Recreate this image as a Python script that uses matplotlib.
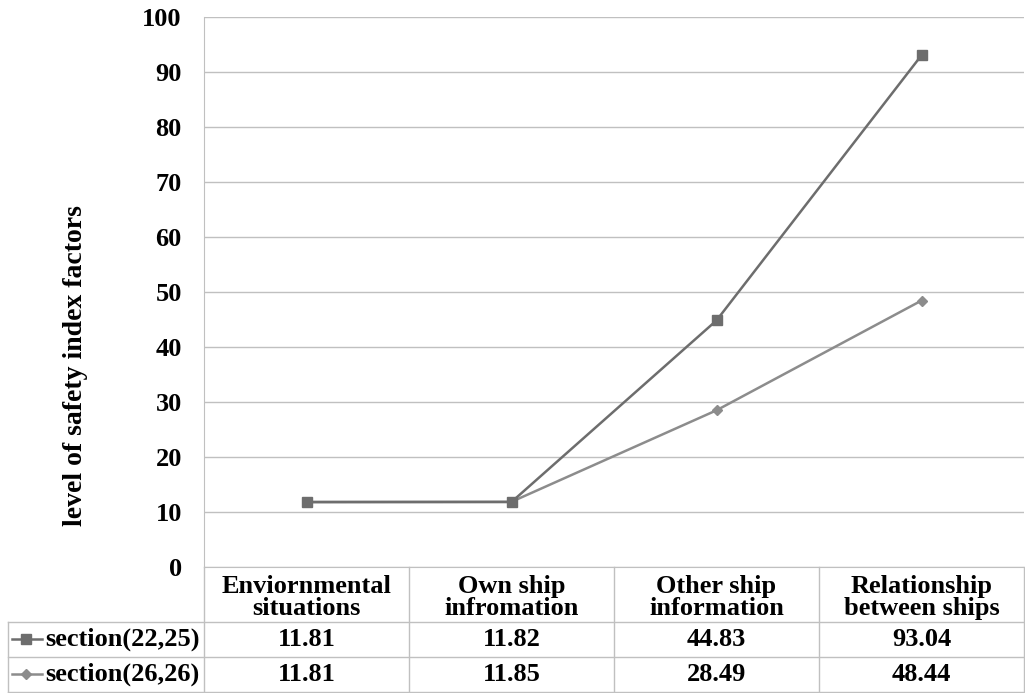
import matplotlib.pyplot as plt
from matplotlib.lines import Line2D

categories = ['Enviornmental\nsituations', 'Own ship\ninfromation',
              'Other ship\ninformation', 'Relationship\nbetween ships']
series_names = ['section(22,25)', 'section(26,26)']
sec_22_25 = [11.81, 11.82, 44.83, 93.04]
sec_26_26 = [11.81, 11.85, 28.49, 48.44]
y_ticks = [0, 10, 20, 30, 40, 50, 60, 70, 80, 90, 100]

plt.rcParams['font.family'] = ['Liberation Serif', 'DejaVu Serif']
plt.rcParams['font.weight'] = 'bold'

fig = plt.figure(figsize=(10.25, 6.93), dpi=100)
ax = fig.add_axes([204 / 1025, 1 - 567 / 693, 820 / 1025, 550 / 693])

grid_col = '#c0c0c0'
colors = ['#6d6d6d', '#8c8c8c']
markers = ['s', 'D']
msizes = [7.5, 5]
fs = 19

x = list(range(len(categories)))
ax.plot(x, sec_26_26, color=colors[1], lw=1.8, marker=markers[1], ms=msizes[1], zorder=3)
ax.plot(x, sec_22_25, color=colors[0], lw=1.8, marker=markers[0], ms=msizes[0], zorder=4)

ax.set_xlim(-0.5, 3.5)
ax.set_ylim(0, 100)
ax.set_yticks(y_ticks)
ax.set_yticklabels([str(t) for t in y_ticks], fontsize=fs, fontweight='bold')
ax.tick_params(axis='y', length=0, pad=16)
ax.set_xticks([])
ax.yaxis.grid(True, color=grid_col, lw=1)
ax.set_axisbelow(True)
for s in ['top', 'right']:
    ax.spines[s].set_visible(False)
ax.spines['left'].set_color(grid_col)
ax.spines['bottom'].set_color(grid_col)
ax.set_ylabel('level of safety index factors', fontsize=20, fontweight='bold')
ax.yaxis.set_label_coords(-0.142, 0.367)

# data table under the plot
tr = ax.get_xaxis_transform()
edges = [-0.5, 0.5, 1.5, 2.5, 3.5]
left = -1.456
y_head, y_r1, y_r2 = -0.1, -0.1636, -0.227

def hline(y, x0, x1):
    ax.add_line(Line2D([x0, x1], [y, y], transform=tr, color=grid_col, lw=1, clip_on=False))

def vline(xv, y0, y1):
    ax.add_line(Line2D([xv, xv], [y0, y1], transform=tr, color=grid_col, lw=1, clip_on=False))

for yy in [y_head, y_r1, y_r2]:
    hline(yy, left, 3.5)
for e in edges:
    vline(e, 0, y_r2)
vline(left, y_head, y_r2)

for i, c in enumerate(categories):
    ax.text(i, y_head / 2 - 0.006, c, transform=tr, ha='center', va='center',
            fontsize=fs, fontweight='bold', linespacing=0.95)

rows = [sec_22_25, sec_26_26]
row_mid = [(y_head + y_r1) / 2, (y_r1 + y_r2) / 2]
for r, vals in enumerate(rows):
    for i, v in enumerate(vals):
        ax.text(i, row_mid[r], '%.2f' % v, transform=tr, ha='center', va='center',
                fontsize=fs, fontweight='bold')
    # legend key
    ax.add_line(Line2D([left + 0.02, left + 0.165], [row_mid[r], row_mid[r]], transform=tr,
                       color=colors[r], lw=1.8, clip_on=False))
    ax.add_line(Line2D([left + 0.09], [row_mid[r]], transform=tr, color=colors[r],
                       marker=markers[r], ms=msizes[r], clip_on=False))
    ax.text(left + 0.18, row_mid[r], series_names[r], transform=tr, ha='left', va='center',
            fontsize=fs, fontweight='bold')

fig.savefig('out.png', dpi=100)
